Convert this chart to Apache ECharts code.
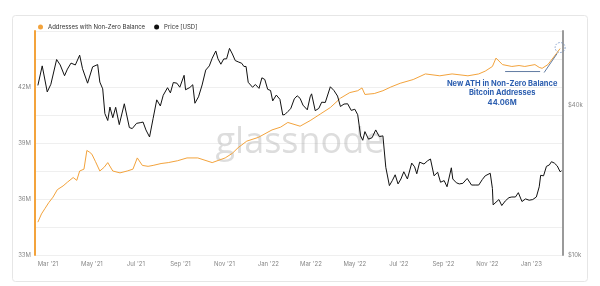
<!DOCTYPE html>
<html><head><meta charset="utf-8">
<script src="https://cdn.jsdelivr.net/npm/echarts@6/dist/echarts.min.js"></script>
<style>html,body{margin:0;padding:0;background:#fff}#c{width:600px;height:286px}</style>
</head><body><div id="c"></div>
<script>
// ---- data ----
const priceDates = ['2021-02-15','2021-02-21','2021-02-28','2021-03-05','2021-03-13','2021-03-18','2021-03-24','2021-03-28','2021-04-02','2021-04-08','2021-04-14','2021-04-18','2021-04-25','2021-05-02','2021-05-09','2021-05-12','2021-05-16','2021-05-19','2021-05-23','2021-05-26','2021-05-30','2021-06-03','2021-06-08','2021-06-15','2021-06-22','2021-06-26','2021-07-02','2021-07-07','2021-07-11','2021-07-15','2021-07-20','2021-07-25','2021-07-30','2021-08-04','2021-08-08','2021-08-14','2021-08-18','2021-08-22','2021-08-27','2021-08-31','2021-09-06','2021-09-08','2021-09-14','2021-09-18','2021-09-21','2021-09-26','2021-10-01','2021-10-06','2021-10-11','2021-10-15','2021-10-20','2021-10-23','2021-10-27','2021-10-31','2021-11-04','2021-11-08','2021-11-12','2021-11-16','2021-11-20','2021-11-25','2021-11-28','2021-12-01','2021-12-04','2021-12-10','2021-12-14','2021-12-19','2021-12-23','2021-12-27','2021-12-31','2022-01-04','2022-01-07','2022-01-12','2022-01-17','2022-01-21','2022-01-24','2022-01-28','2022-02-01','2022-02-06','2022-02-10','2022-02-14','2022-02-18','2022-02-24','2022-02-28','2022-03-02','2022-03-07','2022-03-12','2022-03-16','2022-03-21','2022-03-28','2022-04-02','2022-04-07','2022-04-11','2022-04-16','2022-04-21','2022-04-26','2022-05-01','2022-05-05','2022-05-09','2022-05-12','2022-05-15','2022-05-20','2022-05-25','2022-05-30','2022-06-04','2022-06-09','2022-06-13','2022-06-18','2022-06-22','2022-06-26','2022-06-30','2022-07-04','2022-07-08','2022-07-13','2022-07-19','2022-07-23','2022-07-26','2022-07-30','2022-08-05','2022-08-10','2022-08-14','2022-08-19','2022-08-24','2022-08-28','2022-09-02','2022-09-06','2022-09-12','2022-09-14','2022-09-19','2022-09-23','2022-09-28','2022-10-04','2022-10-10','2022-10-15','2022-10-20','2022-10-25','2022-10-29','2022-11-05','2022-11-08','2022-11-09','2022-11-13','2022-11-17','2022-11-21','2022-11-26','2022-12-01','2022-12-05','2022-12-10','2022-12-14','2022-12-19','2022-12-24','2022-12-29','2023-01-03','2023-01-08','2023-01-12','2023-01-14','2023-01-18','2023-01-22','2023-01-26','2023-01-29','2023-02-02','2023-02-06','2023-02-10','2023-02-12'];
const priceValues = [48000,57500,45200,48500,61000,58000,52500,55800,59000,58000,63500,56000,49000,57000,58200,49500,46500,37000,34700,39300,35600,39200,33400,40500,32500,32200,33800,34000,34200,31800,29800,35400,42000,39700,43800,47000,44800,49300,49000,47200,52700,46100,47100,48300,40700,43200,48200,55300,57500,61700,66000,61400,58400,61300,61400,67600,64200,60400,59700,58900,57200,57200,49400,47200,48400,46700,51500,50700,46300,45800,41600,43900,42200,36500,36700,37700,38700,42400,43600,42600,40000,38300,43200,44400,38000,38800,41100,41000,47400,45800,43500,39500,40400,40500,38100,38500,36600,30100,28900,31300,29200,29600,31800,29900,30100,22500,19000,19900,21000,19300,20200,21600,20200,23400,22600,21200,23600,23200,23900,24300,20800,21500,19600,19900,18800,22400,20200,19500,19300,19400,20300,19100,19100,19100,20100,20800,21300,18500,15900,16300,16700,15800,16500,17000,17100,17100,17800,16400,16800,16600,16700,17100,18800,20900,20800,22700,23000,23700,23400,22800,21600,21800];

const addrDates = ['2021-02-15','2021-02-20','2021-02-25','2021-03-02','2021-03-08','2021-03-14','2021-03-22','2021-03-28','2021-04-05','2021-04-10','2021-04-14','2021-04-20','2021-04-24','2021-04-28','2021-05-01','2021-05-06','2021-05-12','2021-05-18','2021-05-23','2021-05-30','2021-06-09','2021-06-19','2021-06-27','2021-07-03','2021-07-10','2021-07-18','2021-07-25','2021-08-05','2021-08-15','2021-08-28','2021-09-10','2021-09-25','2021-10-15','2021-11-02','2021-11-12','2021-11-20','2021-12-02','2021-12-18','2022-01-06','2022-01-18','2022-01-28','2022-02-14','2022-02-28','2022-03-14','2022-03-28','2022-04-11','2022-04-24','2022-05-05','2022-05-11','2022-05-15','2022-05-28','2022-06-09','2022-06-20','2022-07-03','2022-07-21','2022-08-07','2022-08-27','2022-09-13','2022-10-05','2022-10-20','2022-10-29','2022-11-08','2022-11-13','2022-11-22','2022-12-05','2022-12-15','2022-12-23','2023-01-06','2023-01-12','2023-01-16','2023-01-24','2023-01-30','2023-02-05','2023-02-10'];
const addrValues = [34.76,35.2,35.5,35.8,36.1,36.5,36.7,36.9,37.15,37.0,37.5,37.6,38.6,38.5,38.4,38.0,37.5,37.7,37.95,37.5,37.4,37.5,37.6,38.2,37.8,37.75,37.8,37.9,37.95,38.05,38.2,38.2,37.95,38.2,38.45,38.75,39.1,39.3,39.7,39.85,40.1,39.9,40.2,40.55,40.9,41.4,41.7,41.8,41.95,41.6,41.65,41.8,42.0,42.2,42.4,42.7,42.6,42.7,42.6,42.7,42.85,43.1,43.55,43.2,43.1,43.15,43.1,43.2,43.05,43.0,43.2,43.5,43.8,44.06];

const xTickDates = ['2021-03-01','2021-05-01','2021-07-01','2021-09-01','2021-11-01','2022-01-01','2022-03-01','2022-05-01','2022-07-01','2022-09-01','2022-11-01','2023-01-01'];
const xRange = ['2021-02-11', '2023-02-14'];
const addrTicks = [33, 36, 39, 42];
const priceTicks = [10000, 40000];
const seriesNames = ['Addresses with Non-Zero Balance', 'Price [USD]'];
const annotationLines = ['New ATH in Non-Zero Balance', 'Bitcoin Addresses', '44.06M'];

// ---- chart ----
const MON = ['Jan','Feb','Mar','Apr','May','Jun','Jul','Aug','Sep','Oct','Nov','Dec'];
const ts = d => Date.parse(d + 'T00:00:00Z');
const ORANGE = '#f3a33c';
const chart = echarts.init(document.getElementById('c'), null, {renderer: 'canvas'});
const fontFam = 'Inter, "Noto Sans", sans-serif';

chart.setOption({
  animation: false,
  backgroundColor: '#fff',
  grid: {left: 35, right: 37, top: 31, bottom: 31},
  legend: {
    left: 33, top: 19, itemWidth: 5, itemHeight: 5, itemGap: 9, icon: 'circle',
    textStyle: {fontSize: 6, color: '#333', fontFamily: fontFam},
    data: seriesNames
  },
  xAxis: {
    type: 'value',
    min: ts(xRange[0]), max: ts(xRange[1]),
    axisLine: {show: false}, axisTick: {show: false}, splitLine: {show: false},
    axisLabel: {
      customValues: xTickDates.map(ts),
      fontSize: 6, color: '#888', fontFamily: fontFam, margin: 6,
      formatter: v => { const d = new Date(v); return MON[d.getUTCMonth()] + " '" + String(d.getUTCFullYear()).slice(2); }
    }
  },
  yAxis: [{
    type: 'value', min: 33, max: 45, interval: 1.5, position: 'left',
    axisLine: {show: true, lineStyle: {color: ORANGE, width: 2}},
    axisTick: {show: false},
    splitLine: {lineStyle: {color: '#efefef', width: 1}},
    axisLabel: {
      customValues: addrTicks,
      fontSize: 6, color: '#888', fontFamily: fontFam, margin: 4,
      formatter: v => Math.round(v) + 'M'
    }
  }, {
    type: 'log', logBase: 10, min: 10000, max: 79400, position: 'right',
    axisLine: {show: true, lineStyle: {color: '#9a9a9a', width: 2}},
    axisTick: {show: false}, splitLine: {show: false},
    axisLabel: {
      customValues: priceTicks,
      fontSize: 6, color: '#888', fontFamily: fontFam, margin: 5,
      formatter: v => '$' + Math.round(v / 1000) + 'k'
    }
  }],
  series: [{
    name: seriesNames[0], type: 'line', yAxisIndex: 0, showSymbol: false, z: 3,
    color: ORANGE, lineStyle: {width: 1, color: ORANGE},
    data: addrDates.map((d, i) => [ts(d), addrValues[i]])
  }, {
    name: seriesNames[1], type: 'line', yAxisIndex: 1, showSymbol: false, z: 4,
    color: '#111', lineStyle: {width: 1, color: '#111'},
    data: priceDates.map((d, i) => [ts(d), priceValues[i]])
  }]
});

const last = addrDates.length - 1;
const p = chart.convertToPixel({xAxisIndex: 0, yAxisIndex: 0}, [ts(addrDates[last]), addrValues[last]]);
const BLUE = '#2d5fb0';
chart.setOption({
  graphic: [
    {type: 'rect', z: -10, silent: true, shape: {x: 12.5, y: 15.5, width: 575, height: 266, r: 3},
     style: {fill: 'none', stroke: '#e6e6e6', lineWidth: 1}},
    {type: 'text', z: 0, silent: true, x: 300, y: 143,
     style: {text: 'glassnode', fontSize: 36, fontWeight: 500, fontFamily: '"Open Sans", sans-serif',
             fill: 'rgba(170,170,170,0.4)', align: 'center', verticalAlign: 'middle'}},
    {type: 'text', z: 100, silent: true, x: p[0] - 58, y: p[1] + 30,
     style: {text: annotationLines.join('\n'), fontSize: 7.5, fontWeight: 'bold', lineHeight: 9.5,
             fontFamily: fontFam, fill: BLUE, align: 'center', verticalAlign: 'top'}},
    {type: 'line', z: 100, silent: true, shape: {x1: p[0] - 55, y1: p[1] + 23, x2: p[0] - 20, y2: p[1] + 23},
     style: {stroke: '#3a5a8a', lineWidth: 0.8}},
    {type: 'line', z: 100, silent: true, shape: {x1: p[0] - 16, y1: p[1] + 24, x2: p[0] - 3, y2: p[1] + 5},
     style: {stroke: '#3a5a8a', lineWidth: 0.8}},
    {type: 'circle', z: 100, silent: true, shape: {cx: p[0], cy: p[1] - 1, r: 5},
     style: {fill: 'none', stroke: '#6a8ac0', lineWidth: 0.8, lineDash: [1.5, 1.5]}}
  ]
});
</script>
</body></html>
